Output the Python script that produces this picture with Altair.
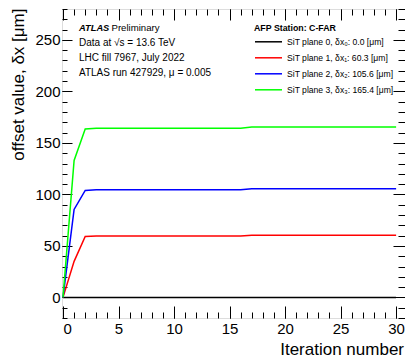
import altair as alt
import pandas as pd

# ---------------- data ----------------
iterations = [0, 1, 2, 3, 4, 5, 6, 7, 8, 9, 10, 11, 12, 13, 14, 15, 16,
              17, 18, 19, 20, 21, 22, 23, 24, 25, 26, 27, 28, 29, 30]
plane0 = [0.0, 0.0, 0.0, 0.0, 0.0, 0.0, 0.0, 0.0, 0.0, 0.0, 0.0, 0.0, 0.0, 0.0, 0.0, 0.0, 0.0,
          0.0, 0.0, 0.0, 0.0, 0.0, 0.0, 0.0, 0.0, 0.0, 0.0, 0.0, 0.0, 0.0, 0.0]
plane1 = [0.0, 35.0, 59.2, 59.6, 59.6, 59.6, 59.6, 59.6, 59.6, 59.6, 59.6, 59.6, 59.6, 59.6, 59.6, 59.6, 59.6,
          60.3, 60.3, 60.3, 60.3, 60.3, 60.3, 60.3, 60.3, 60.3, 60.3, 60.3, 60.3, 60.3, 60.3]
plane2 = [0.0, 85.4, 103.9, 104.4, 104.4, 104.4, 104.4, 104.4, 104.4, 104.4, 104.4, 104.4, 104.4, 104.4, 104.4, 104.4, 104.4,
          105.6, 105.6, 105.6, 105.6, 105.6, 105.6, 105.6, 105.6, 105.6, 105.6, 105.6, 105.6, 105.6, 105.6]
plane3 = [0.0, 133.0, 163.6, 164.2, 164.2, 164.2, 164.2, 164.2, 164.2, 164.2, 164.2, 164.2, 164.2, 164.2, 164.2, 164.2, 164.2,
          165.4, 165.4, 165.4, 165.4, 165.4, 165.4, 165.4, 165.4, 165.4, 165.4, 165.4, 165.4, 165.4, 165.4]

series_labels = [
    "SiT plane 0, δx₀: 0.0 [μm]",
    "SiT plane 1, δx₁: 60.3 [μm]",
    "SiT plane 2, δx₂: 105.6 [μm]",
    "SiT plane 3, δx₃: 165.4 [μm]",
]
series_colors = ["#000000", "#ff0000", "#0000ff", "#00ff00"]

x_major = [0, 5, 10, 15, 20, 25, 30]
x_minor = list(range(0, 31))
y_major = [0, 50, 100, 150, 200, 250]
y_minor = list(range(-20, 281, 10))

annotation_lines = [
    "Data at √s = 13.6 TeV",
    "LHC fill 7967, July 2022",
    "ATLAS run 427929, μ = 0.005",
]

rows = []
for lab, vals in zip(series_labels, [plane0, plane1, plane2, plane3]):
    for it, v in zip(iterations, vals):
        rows.append({"iteration": it, "offset": v, "series": lab})
df = pd.DataFrame(rows)

# ---------------- layout ----------------
W, H = 343, 309
FONT = "Liberation Sans"
xs = alt.Scale(domain=[-0.09, 30.8], nice=False, zero=False)
ys = alt.Scale(domain=[-20, 280], nice=False, zero=False)

base = alt.Chart(df)

lines = base.mark_line(strokeWidth=1.5, clip=True).encode(
    x=alt.X("iteration:Q", scale=xs, axis=alt.Axis(
        values=x_major, ticks=False, domain=False, grid=False,
        labelFontSize=15, labelPadding=3, labelColor="black", labelFont=FONT,
        title="Iteration number", titleFontSize=17, titleFontWeight="normal",
        titleFont=FONT, titleColor="black",
        titleX=W - 1.5, titleY=36, titleAlign="right", titleBaseline="alphabetic")),
    y=alt.Y("offset:Q", scale=ys, axis=alt.Axis(
        values=y_major, ticks=False, domain=False, grid=False,
        labelFontSize=15, labelPadding=2, labelColor="black", labelFont=FONT,
        title="offset value, δx [μm]", titleFontSize=17, titleFontWeight="normal",
        titleFont=FONT, titleColor="black",
        titleX=-38.5, titleY=-1, titleAlign="right", titleBaseline="alphabetic")),
    color=alt.Color("series:N", sort=series_labels,
                    scale=alt.Scale(domain=series_labels, range=series_colors),
                    legend=alt.Legend(
                        orient="none", legendX=192, legendY=14.5, padding=0,
                        title="AFP Station: C-FAR", titleFontSize=8.8, titleFont=FONT,
                        titleFontWeight="bold", titleColor="black", titlePadding=4,
                        labelFontSize=8.6, labelFont=FONT, labelColor="black",
                        symbolType="M-1,0H5", symbolSize=81, symbolStrokeWidth=1.5,
                        rowPadding=5, labelOffset=22)),
)


def tick_layer(x_orient, x_vals, x_len, y_orient, y_vals, y_len):
    return base.mark_line(opacity=0).encode(
        x=alt.X("iteration:Q", scale=xs, axis=alt.Axis(
            orient=x_orient, offset=-H, values=x_vals, labels=False, domain=False,
            grid=False, ticks=True, tickSize=x_len, tickWidth=1, tickColor="black",
            title=None)),
        y=alt.Y("offset:Q", scale=ys, axis=alt.Axis(
            orient=y_orient, offset=-W, values=y_vals, labels=False, domain=False,
            grid=False, ticks=True, tickSize=y_len, tickWidth=1, tickColor="black",
            title=None)),
    )


t1 = tick_layer("top", x_major, 12, "right", y_major, 10)
t2 = tick_layer("top", x_minor, 6, "right", y_minor, 5)
t3 = tick_layer("bottom", x_major, 11, "left", y_major, 12)
t4 = tick_layer("bottom", x_minor, 6, "left", y_minor, 7)


def text_layer(txt, x, y, size=10, **kw):
    return alt.Chart(pd.DataFrame({"t": [txt]})).mark_text(
        align="left", baseline="alphabetic", font=FONT, fontSize=size, color="black", **kw
    ).encode(text="t:N", x=alt.value(x), y=alt.value(y))


texts = [
    text_layer("ATLAS", 17, 21.7, size=9.3, fontWeight="bold", fontStyle="italic"),
    text_layer("Preliminary", 49.5, 21.7, size=9.6),
    text_layer(annotation_lines[0], 17, 37),
    text_layer(annotation_lines[1], 17, 51.5),
    text_layer(annotation_lines[2], 17, 66.5),
]

chart = alt.layer(lines, t1, t2, t3, t4, *texts).resolve_axis(
    x="independent", y="independent"
).properties(
    width=W, height=H,
    autosize=alt.AutoSizeParams(type="none"),
    padding={"left": 54, "top": 1, "right": 0, "bottom": 41},
).configure_view(stroke="black", strokeWidth=1.5).configure(font=FONT)

chart.save("out.html", embed_options={"renderer": "svg", "actions": False})
